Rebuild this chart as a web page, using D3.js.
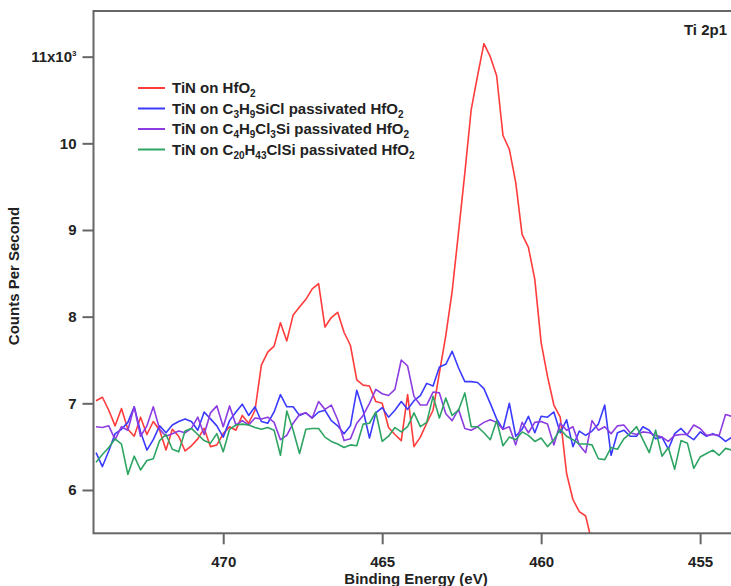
<!DOCTYPE html>
<html>
<head>
<meta charset="utf-8">
<script src="https://cdn.jsdelivr.net/npm/d3@7"></script>
<style>
  body { margin: 0; background: #fff; }
  svg { display: block; font-family: "Liberation Sans", Arial, sans-serif; font-weight: bold; }
</style>
</head>
<body>
<div id="chart"></div>
<script>
// binding energy grid (eV), spectra sampled every 0.2 eV from 474 eV down
const eStart = 474.0, eStep = 0.2, eCount = 101;
const bindingEnergy = d3.range(eCount).map(i => eStart - i * eStep);

// counts per second, in units of 10^3
const tinOnHfO2 = [
  7.03,7.07,6.92,6.74,6.94,6.70,6.62,6.84,6.64,6.79,
  6.69,6.46,6.70,6.62,6.45,6.51,6.59,6.71,6.50,6.52,
  6.65,6.73,6.69,6.86,6.77,6.92,7.44,7.59,7.66,7.93,
  7.72,8.02,8.11,8.20,8.32,8.38,7.88,7.99,8.05,7.82,
  7.67,7.27,7.21,7.20,7.02,7.00,6.72,6.64,6.57,7.10,
  6.50,6.61,6.77,6.92,7.35,7.78,8.29,8.97,9.66,10.39,
  10.78,11.15,11.00,10.78,10.09,9.93,9.55,8.95,8.80,8.43,
  7.70,7.31,6.98,6.84,6.19,5.89,5.75,5.70,5.39
];
const tinOnC3 = [
  6.43,6.27,6.45,6.65,6.70,6.78,6.96,6.67,6.46,6.58,
  6.74,6.66,6.75,6.79,6.82,6.79,6.69,6.90,6.82,6.74,
  6.61,6.80,6.90,6.99,6.86,6.96,6.79,6.77,6.90,7.10,
  6.96,6.96,6.86,6.89,6.83,6.90,6.92,6.80,6.74,6.65,
  6.74,7.15,6.92,6.60,6.89,6.95,6.84,6.92,7.02,6.93,
  7.03,7.09,7.23,7.20,7.42,7.45,7.60,7.41,7.25,7.25,
  7.24,7.17,7.00,6.82,6.70,7.00,6.62,6.70,6.85,6.66,
  6.85,6.84,6.90,6.66,6.81,6.50,6.68,6.63,6.68,6.76,
  6.98,6.40,6.66,6.69,6.62,6.62,6.73,6.69,6.59,6.61,
  6.47,6.65,6.71,6.63,6.58,6.67,6.62,6.65,6.62,6.56,
  6.61
];
const tinOnC4 = [
  6.73,6.72,6.74,6.58,6.73,6.69,6.96,6.62,6.74,6.96,
  6.70,6.62,6.65,6.68,6.66,6.71,6.84,6.64,6.89,6.97,
  6.73,6.97,6.75,6.80,6.75,6.83,6.82,6.84,6.78,6.58,
  6.63,6.77,6.87,6.89,6.83,7.02,6.93,6.98,6.81,6.57,
  6.59,6.77,6.86,7.00,7.16,7.11,7.09,7.16,7.50,7.43,
  7.08,6.98,6.98,7.13,7.12,6.88,6.80,6.93,6.71,6.69,
  6.73,6.78,6.81,6.78,6.70,6.73,6.52,6.78,6.66,6.78,
  6.79,6.76,6.52,6.77,6.69,6.73,6.52,6.43,6.80,6.69,
  6.73,6.65,6.74,6.75,6.66,6.64,6.67,6.66,6.63,6.61,
  6.56,6.63,6.64,6.64,6.75,6.71,6.63,6.64,6.63,6.87,
  6.85
];
const tinOnC20 = [
  6.32,6.41,6.49,6.59,6.53,6.18,6.39,6.23,6.34,6.36,
  6.57,6.64,6.47,6.44,6.68,6.71,6.64,6.57,6.54,6.65,
  6.44,6.70,6.75,6.76,6.75,6.72,6.70,6.72,6.69,6.40,
  6.91,6.69,6.42,6.70,6.71,6.71,6.61,6.56,6.53,6.49,
  6.52,6.51,6.76,6.77,6.90,6.56,6.62,6.72,6.67,6.73,
  6.89,6.73,6.78,7.08,6.83,7.06,6.86,6.92,7.12,6.73,
  6.73,6.66,6.58,6.80,6.51,6.61,6.58,6.67,6.63,6.56,
  6.60,6.50,6.58,6.70,6.62,6.58,6.53,6.53,6.52,6.36,
  6.35,6.49,6.47,6.59,6.65,6.73,6.58,6.43,6.69,6.39,
  6.49,6.24,6.57,6.54,6.25,6.38,6.42,6.46,6.40,6.48,
  6.46
];

const xTicks = [470, 465, 460, 455];
const yTicks = [6, 7, 8, 9, 10, 11];

// legend labels: [text, subscript?]
const legendLabels = [
  [["TiN on HfO", 0], ["2", 1]],
  [["TiN on C", 0], ["3", 1], ["H", 0], ["9", 1], ["SiCl passivated HfO", 0], ["2", 1]],
  [["TiN on C", 0], ["4", 1], ["H", 0], ["9", 1], ["Cl", 0], ["3", 1], ["Si passivated HfO", 0], ["2", 1]],
  [["TiN on C", 0], ["20", 1], ["H", 0], ["43", 1], ["ClSi passivated HfO", 0], ["2", 1]]
];
const colors = ["#ff3b3b", "#3b3bff", "#8c3ce0", "#2ea463"];
const seriesValues = [tinOnHfO2, tinOnC3, tinOnC4, tinOnC20];

const W = 731, H = 586;
const plot = { left: 93.5, top: 11, right: 733.5, bottom: 533.3 };

const svg = d3.select("#chart").append("svg")
  .attr("width", W).attr("height", H);

const x = d3.scaleLinear().domain([474.08, 453.95]).range([plot.left, plot.right]);
const y = d3.scaleLinear().domain([5.5, 11.527]).range([plot.bottom, plot.top]);

svg.append("clipPath").attr("id", "clip")
  .append("rect")
  .attr("x", plot.left).attr("y", plot.top)
  .attr("width", plot.right - plot.left).attr("height", plot.bottom - plot.top);

// traces
const line = d3.line()
  .x((d, i) => x(bindingEnergy[i]))
  .y(d => y(d));

svg.append("g").attr("clip-path", "url(#clip)")
  .selectAll("path")
  .data(seriesValues)
  .join("path")
  .attr("d", d => line(d))
  .attr("fill", "none")
  .attr("stroke", (d, i) => colors[i])
  .attr("stroke-width", 1.6)
  .attr("stroke-linejoin", "round");

// frame
svg.append("rect")
  .attr("x", plot.left).attr("y", plot.top)
  .attr("width", plot.right - plot.left).attr("height", plot.bottom - plot.top)
  .attr("fill", "none").attr("stroke", "#666").attr("stroke-width", 2);

// axes
const yAxis = svg.append("g")
  .attr("transform", `translate(${plot.left},0)`)
  .call(d3.axisLeft(y).tickValues(yTicks).tickSize(11).tickPadding(6).tickSizeOuter(0)
    .tickFormat(d => d === 11 ? "11x10" : d));

const xAxis = svg.append("g")
  .attr("transform", `translate(0,${plot.bottom})`)
  .call(d3.axisBottom(x).tickValues(xTicks).tickSize(11).tickPadding(12).tickSizeOuter(0));

[xAxis, yAxis].forEach(g => {
  g.select(".domain").remove();
  g.selectAll(".tick line").attr("stroke", "#666").attr("stroke-width", 2);
  g.selectAll(".tick text")
    .attr("fill", "#222")
    .style("font-size", "15px")
    .style("font-weight", "bold")
    .style("font-family", "'Liberation Sans', Arial, sans-serif");
});

// superscript on the top tick
yAxis.selectAll(".tick text").filter(d => d === 11)
  .append("tspan").attr("dy", "-6").style("font-size", "8px").text("3");

// axis titles
svg.append("text")
  .attr("x", 416).attr("y", 584)
  .attr("text-anchor", "middle")
  .style("font-size", "15px").attr("fill", "#222")
  .text("Binding Energy (eV)");

svg.append("text")
  .attr("transform", "translate(19,276) rotate(-90)")
  .attr("text-anchor", "middle")
  .style("font-size", "15px").attr("fill", "#222")
  .text("Counts Per Second");

svg.append("text")
  .attr("x", 727).attr("y", 35)
  .attr("text-anchor", "end")
  .style("font-size", "15px").attr("fill", "#222")
  .text("Ti 2p1");

// legend
const legend = svg.append("g");
const rowY = d3.scaleLinear().domain([0, 3]).range([88, 149.5]);
legendLabels.forEach((parts, i) => {
  const yy = rowY(i);
  legend.append("line")
    .attr("x1", 138).attr("x2", 165).attr("y1", yy).attr("y2", yy)
    .attr("stroke", colors[i]).attr("stroke-width", 2);
  const t = legend.append("text")
    .attr("x", 172).attr("y", yy).attr("dy", "0.35em")
    .style("font-size", "15px").attr("fill", "#222");
  let shifted = false;
  parts.forEach(([s, sub]) => {
    const ts = t.append("tspan").text(s);
    if (sub && !shifted) { ts.attr("dy", 4).style("font-size", "10px"); shifted = true; }
    else if (sub) { ts.style("font-size", "10px"); }
    else if (shifted) { ts.attr("dy", -4); shifted = false; }
  });
});
</script>
</body>
</html>
